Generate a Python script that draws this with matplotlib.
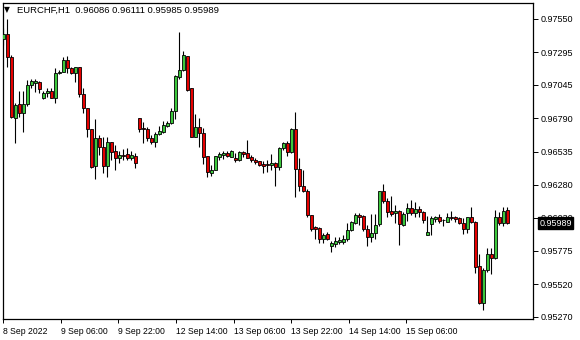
import numpy as np
import matplotlib
matplotlib.use("Agg")
import matplotlib.pyplot as plt

plt.rcParams['font.family'] = ['Liberation Sans', 'DejaVu Sans']

symbol = "EURCHF,H1"

opens = [0.97397, 0.97435, 0.97259, 0.96795, 0.96897, 0.96828, 0.96897, 0.97043, 0.97064, 0.97068,
         0.96943, 0.96981, 0.96999, 0.96948, 0.97134, 0.97142, 0.97236, 0.97173, 0.97134, 0.97180,
         0.96976, 0.96867, 0.96706, 0.96427, 0.96637, 0.96568, 0.96427, 0.96606, 0.96540, 0.96484,
         0.96513, 0.96515, 0.96489, 0.96502, 0.96790, 0.96714, 0.96706, 0.96637, 0.96611, 0.96668,
         0.96683, 0.96731, 0.96752, 0.96848, 0.97108, 0.97160, 0.97267, 0.97020, 0.96649, 0.96721,
         0.96675, 0.96502, 0.96369, 0.96395, 0.96496, 0.96507, 0.96522, 0.96496, 0.96489, 0.96471,
         0.96530, 0.96522, 0.96496, 0.96471, 0.96463, 0.96437, 0.96438, 0.96431, 0.96446, 0.96420,
         0.96561, 0.96599, 0.96535, 0.96706, 0.96400, 0.96272, 0.96236, 0.96050, 0.95956, 0.95949,
         0.95864, 0.95903, 0.95815, 0.95828, 0.95846, 0.95846, 0.95864, 0.95936, 0.95987, 0.96050,
         0.96043, 0.95941, 0.95884, 0.95910, 0.95979, 0.96236, 0.96157, 0.96081, 0.96063, 0.96083,
         0.95974, 0.96063, 0.96102, 0.96068, 0.96094, 0.96076, 0.95897, 0.95981, 0.96020, 0.96037,
         0.96012, 0.95999, 0.96037, 0.96033, 0.96025, 0.95987, 0.95941, 0.96033, 0.95994, 0.95662,
         0.95379, 0.95630, 0.95750, 0.95719, 0.96033, 0.95987, 0.96086]

highs = [0.97481, 0.97550, 0.97274, 0.96907, 0.96999, 0.96999, 0.97083, 0.97091, 0.97093, 0.97075,
         0.96999, 0.97020, 0.97020, 0.97173, 0.97156, 0.97261, 0.97267, 0.97185, 0.97182, 0.97182,
         0.97020, 0.96869, 0.96708, 0.96782, 0.96662, 0.96649, 0.96649, 0.96609, 0.96586, 0.96540,
         0.96559, 0.96561, 0.96540, 0.96522, 0.96792, 0.96764, 0.96721, 0.96662, 0.96688, 0.96731,
         0.96769, 0.96769, 0.96867, 0.97121, 0.97453, 0.97305, 0.97270, 0.97024, 0.96823, 0.96790,
         0.96714, 0.96502, 0.96433, 0.96502, 0.96535, 0.96542, 0.96542, 0.96544, 0.96522, 0.96540,
         0.96540, 0.96624, 0.96509, 0.96484, 0.96463, 0.96463, 0.96471, 0.96517, 0.96458, 0.96573,
         0.96611, 0.96619, 0.96714, 0.96841, 0.96484, 0.96395, 0.96247, 0.96050, 0.95966, 0.95961,
         0.95910, 0.95923, 0.95854, 0.95884, 0.95880, 0.95897, 0.95987, 0.96004, 0.96063, 0.96063,
         0.96050, 0.95974, 0.96058, 0.96058, 0.96236, 0.96287, 0.96178, 0.96196, 0.96127, 0.96085,
         0.96076, 0.96140, 0.96165, 0.96147, 0.96119, 0.96081, 0.96045, 0.96045, 0.96043, 0.96056,
         0.96020, 0.96068, 0.96081, 0.96045, 0.96037, 0.96030, 0.96037, 0.96109, 0.96007, 0.95750,
         0.95643, 0.95800, 0.95800, 0.96089, 0.96076, 0.96114, 0.96111]

lows = [0.97351, 0.97183, 0.96792, 0.96601, 0.96800, 0.96688, 0.96884, 0.97020, 0.96994, 0.96986,
        0.96940, 0.96951, 0.96943, 0.96905, 0.97129, 0.97141, 0.97134, 0.97129, 0.97070, 0.96951,
        0.96828, 0.96649, 0.96408, 0.96323, 0.96509, 0.96369, 0.96343, 0.96471, 0.96395, 0.96450,
        0.96471, 0.96471, 0.96471, 0.96408, 0.96688, 0.96599, 0.96619, 0.96593, 0.96568, 0.96666,
        0.96675, 0.96726, 0.96746, 0.96782, 0.97088, 0.97152, 0.97001, 0.96647, 0.96647, 0.96573,
        0.96440, 0.96343, 0.96351, 0.96391, 0.96471, 0.96479, 0.96496, 0.96494, 0.96458, 0.96463,
        0.96496, 0.96486, 0.96458, 0.96438, 0.96425, 0.96369, 0.96382, 0.96395, 0.96272, 0.96395,
        0.96548, 0.96502, 0.96527, 0.96186, 0.96236, 0.96229, 0.96033, 0.95930, 0.95864, 0.95838,
        0.95838, 0.95859, 0.95770, 0.95808, 0.95826, 0.95828, 0.95854, 0.95930, 0.95981, 0.95974,
        0.95930, 0.95815, 0.95846, 0.95864, 0.95966, 0.96144, 0.96033, 0.96043, 0.95991, 0.95821,
        0.95966, 0.96007, 0.96050, 0.96037, 0.96037, 0.95991, 0.95895, 0.95897, 0.95999, 0.95991,
        0.95968, 0.95994, 0.96012, 0.95999, 0.95979, 0.95903, 0.95915, 0.95991, 0.95604, 0.95372,
        0.95324, 0.95617, 0.95597, 0.95711, 0.95974, 0.95968, 0.95985]

closes = [0.97435, 0.97259, 0.96800, 0.96890, 0.96828, 0.96897, 0.97045, 0.97075, 0.97075, 0.97012,
          0.96981, 0.96999, 0.96948, 0.97134, 0.97148, 0.97236, 0.97173, 0.97134, 0.97180, 0.96976,
          0.96867, 0.96706, 0.96420, 0.96637, 0.96573, 0.96427, 0.96606, 0.96535, 0.96484, 0.96509,
          0.96505, 0.96489, 0.96509, 0.96446, 0.96706, 0.96708, 0.96637, 0.96611, 0.96670, 0.96693,
          0.96739, 0.96752, 0.96848, 0.97114, 0.97160, 0.97274, 0.97007, 0.96649, 0.96721, 0.96675,
          0.96496, 0.96377, 0.96395, 0.96502, 0.96515, 0.96527, 0.96502, 0.96542, 0.96471, 0.96530,
          0.96517, 0.96489, 0.96471, 0.96453, 0.96433, 0.96429, 0.96431, 0.96446, 0.96420, 0.96561,
          0.96599, 0.96535, 0.96706, 0.96400, 0.96272, 0.96236, 0.96050, 0.95941, 0.95941, 0.95864,
          0.95897, 0.95864, 0.95834, 0.95851, 0.95859, 0.95867, 0.95936, 0.95997, 0.96050, 0.96037,
          0.95941, 0.95884, 0.95915, 0.95974, 0.96236, 0.96157, 0.96076, 0.96060, 0.96083, 0.95979,
          0.96056, 0.96102, 0.96068, 0.96094, 0.96076, 0.96012, 0.95918, 0.96025, 0.96037, 0.96007,
          0.96010, 0.96037, 0.96027, 0.96022, 0.95987, 0.95941, 0.96033, 0.95994, 0.95655, 0.95375,
          0.95630, 0.95750, 0.95719, 0.96037, 0.95987, 0.96083, 0.95989]

price_ticks = [0.97550, 0.97295, 0.97045, 0.96790, 0.96535, 0.96280, 0.96030, 0.95775, 0.95520, 0.95270]
time_labels = ["8 Sep 2022", "9 Sep 06:00", "9 Sep 22:00", "12 Sep 14:00",
               "13 Sep 06:00", "13 Sep 22:00", "14 Sep 14:00", "15 Sep 06:00"]

UP = "#3cc83c"
DOWN = "#e60000"

W, H = 580, 340
fig = plt.figure(figsize=(W / 100, H / 100), dpi=100)
left_px, right_px, top_px, bottom_px = 2.7, 533, 2.7, 319
ax = fig.add_axes([left_px / W, 1 - bottom_px / H,
                   (right_px - left_px) / W, (bottom_px - top_px) / H])

o = np.array(opens); h = np.array(highs); l = np.array(lows); c = np.array(closes)
idx = np.arange(len(o))
cols = [UP if cc >= oo else DOWN for oo, cc in zip(o, c)]

ax.vlines(idx, l, h, color="black", linewidth=0.8, zorder=2)
body_h = np.where(np.abs(c - o) < 1e-6, 1e-6, c - o)
ax.bar(idx, body_h, bottom=o, width=0.68, color=cols, edgecolor="black",
       linewidth=0.6, zorder=3)

# axes scaling: 4 px per bar
ax.set_xlim(-0.15, (right_px - 3.3) / 4)
ax.set_ylim(0.952546, 0.976747)

for s in ax.spines.values():
    s.set_color("black")
    s.set_linewidth(0.9)

ax.yaxis.tick_right()
ax.set_yticks(price_ticks)
ax.set_yticklabels([f"{p:.5f}" for p in price_ticks])
ax.tick_params(axis="y", direction="out", length=3.5, width=0.7, pad=2,
               labelsize=6.5, colors="black")

tick_step = 14.4
ax.set_xticks(np.arange(len(time_labels)) * tick_step)
ax.set_xticklabels(time_labels)
for t in ax.get_xticklabels():
    t.set_horizontalalignment("left")
ax.tick_params(axis="x", direction="out", length=3, width=0.7, pad=2.5,
               labelsize=6.2, colors="black")

# current price label
ax.annotate(f"{closes[-1]:.5f}", xy=(1, closes[-1]), xycoords=("axes fraction", "data"),
            xytext=(4.5, 0), textcoords="offset points", va="center", ha="left",
            fontsize=6.5, color="white",
            bbox=dict(boxstyle="square,pad=0.15", fc="black", ec="black"), zorder=10,
            annotation_clip=False)

# header
fig.text(4 / W, 1 - 10 / H, "▼", fontsize=5.5, va="center", ha="left",
         family=["DejaVu Sans"])
fig.text(17 / W, 1 - 10 / H,
         f"{symbol}  {opens[-1]:.5f} {highs[-1]:.5f} {lows[-1]:.5f} {closes[-1]:.5f}",
         fontsize=6.8, va="center", ha="left")

fig.savefig("out.png", dpi=100)
